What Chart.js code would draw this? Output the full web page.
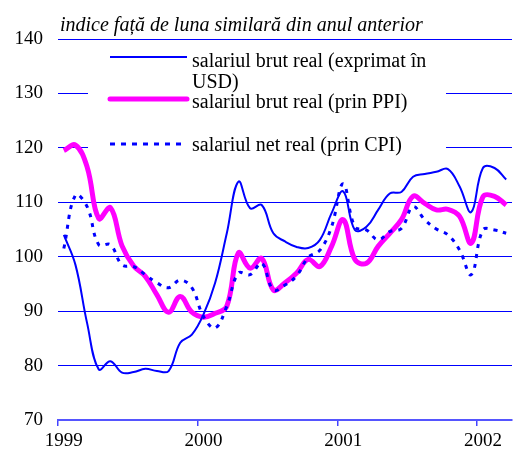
<!DOCTYPE html>
<html lang="ro">
<head>
  <meta charset="UTF-8">
  <title>Salariul real</title>
  <script src="https://cdn.jsdelivr.net/npm/chart.js"></script>
  <style>
    body { margin: 0; background: #fff; }
    #c { display: block; }
  </style>
</head>
<body>
  <canvas id="c" width="520" height="453"></canvas>
  <script>
    // lunar, ian 1999 - mar 2002
    const months = [];
    for (let y = 1999; y <= 2002; y++) {
      for (let m = 1; m <= 12; m++) {
        if (y === 2002 && m > 3) break;
        months.push(y + '-' + m);
      }
    }
    const yearLabels = ['1999', '2000', '2001', '2002'];

    const brutUSD = [104, 98.5, 87.8, 79.3, 80.8, 78.7, 78.8, 79.4, 79.0, 79.0,
      84.2, 85.7, 89.4, 95.2, 104.3, 113.8, 108.9, 109.5, 104.3, 102.8,
      101.8, 101.6, 103.1, 108.0, 112.0, 104.9, 105.5, 108.6, 111.6, 111.9,
      114.7, 115.2, 115.6, 116.1, 112.9, 108.2, 116.3, 116.3, 114.2];
    const brutPPI = [119.5, 120.5, 116.5, 107.0, 109.0, 102.0, 98.3, 96.4, 93.0, 89.8,
      92.7, 89.8, 88.9, 89.6, 90.9, 100.7, 97.9, 99.7, 93.9, 95.2,
      97.0, 99.5, 98.2, 101.9, 106.8, 99.5, 98.8, 101.9, 104.3, 106.8,
      111.1, 109.8, 108.6, 108.7, 107.4, 102.5, 111.0, 111.1, 109.5];
    const netCPI = [101.5, 111.3, 109.2, 102.2, 102.2, 98.5, 98.2, 96.7, 95.2, 94.3,
      95.7, 94.3, 89.0, 86.9, 90.9, 97.0, 96.7, 98.8, 93.9, 94.8,
      96.5, 99.9, 101.2, 105.5, 113.4, 105.5, 104.9, 103.1, 104.6, 105.2,
      109.2, 106.8, 105.1, 104.0, 101.2, 96.7, 104.9, 104.9, 104.3];

    const serif = '"Liberation Serif", "Times New Roman", serif';

    // titlu + legenda desenate pe canvas
    const overlay = {
      id: 'overlay',
      beforeDatasetsDraw(chart) {
        const ctx = chart.ctx;
        ctx.save();
        ctx.fillStyle = '#fff';
        ctx.fillRect(88, 46, 358, 114);
        ctx.restore();
      },
      afterDraw(chart) {
        const ctx = chart.ctx;
        ctx.save();
        ctx.fillStyle = '#000';
        ctx.textBaseline = 'alphabetic';
        ctx.font = 'italic 20px ' + serif;
        ctx.fillText('indice față de luna similară din anul anterior', 60, 31);

        ctx.font = '20px ' + serif;
        ctx.fillText('salariul brut real (exprimat în', 192, 67);
        ctx.fillText('USD)', 192, 88);
        ctx.fillText('salariul brut real (prin PPI)', 192, 108);
        ctx.fillText('salariul net real (prin CPI)', 192, 151);

        ctx.strokeStyle = '#0000ff';
        ctx.lineWidth = 2;
        ctx.beginPath(); ctx.moveTo(110, 57); ctx.lineTo(187, 57); ctx.stroke();

        ctx.strokeStyle = '#ff00ff';
        ctx.lineWidth = 5;
        ctx.lineCap = 'round';
        ctx.beginPath(); ctx.moveTo(110, 99); ctx.lineTo(187, 99); ctx.stroke();

        ctx.strokeStyle = '#0000ff';
        ctx.lineWidth = 3;
        ctx.lineCap = 'butt';
        ctx.setLineDash([5, 6]);
        ctx.beginPath(); ctx.moveTo(110, 144); ctx.lineTo(187, 144); ctx.stroke();
        ctx.restore();
      }
    };

    new Chart(document.getElementById('c'), {
      type: 'line',
      data: {
        labels: months,
        datasets: [
          {
            label: 'salariul net real (prin CPI)',
            data: netCPI,
            borderColor: '#0000ff',
            borderWidth: 3,
            borderDash: [4, 6],
            pointRadius: 0,
            tension: 0.4,
            order: 1
          },
          {
            label: 'salariul brut real (exprimat în USD)',
            data: brutUSD,
            borderColor: '#0000ff',
            borderWidth: 2,
            pointRadius: 0,
            tension: 0.4,
            order: 2
          },
          {
            label: 'salariul brut real (prin PPI)',
            data: brutPPI,
            borderColor: '#ff00ff',
            borderWidth: 5,
            pointRadius: 0,
            tension: 0.4,
            order: 3
          }
        ]
      },
      options: {
        responsive: false,
        animation: false,
        devicePixelRatio: 1,
        layout: { padding: { top: 39, right: 8, left: 0, bottom: 0 } },
        plugins: {
          legend: { display: false },
          tooltip: { enabled: false }
        },
        scales: {
          x: {
            type: 'category',
            offset: true,
            afterFit: (s) => { s.height = 33; },
            grid: {
              offset: true,
              drawOnChartArea: false,
              drawTicks: true,
              tickLength: 6,
              color: (c) => (c.index % 12 === 0 ? '#4444ff' : 'rgba(0,0,0,0)'),
              lineWidth: 1.5
            },
            border: { display: true, color: '#5555ff', width: 2 },
            ticks: {
              autoSkip: false,
              maxRotation: 0,
              padding: 4,
              color: '#000',
              font: { family: serif, size: 19 },
              callback: (v, i) => (i % 12 === 0 ? yearLabels[i / 12] : '')
            }
          },
          y: {
            min: 70,
            max: 140,
            afterFit: (s) => { s.width = 58; },
            grid: { color: '#0000ff', lineWidth: 1, drawTicks: false },
            border: { display: false },
            ticks: {
              stepSize: 10,
              padding: 15,
              color: '#000',
              font: { family: serif, size: 19 }
            }
          }
        }
      },
      plugins: [overlay]
    });
  </script>
</body>
</html>
